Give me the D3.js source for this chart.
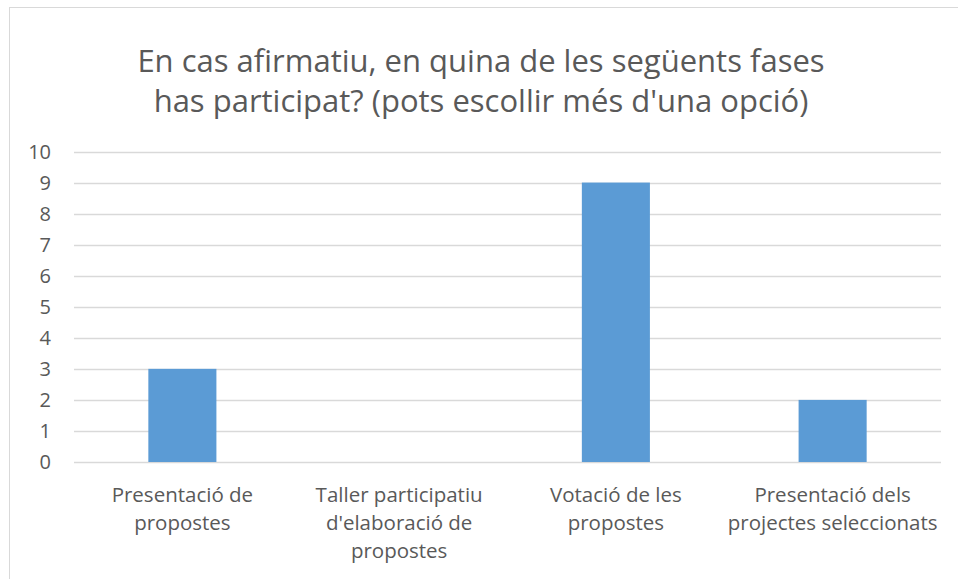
<!DOCTYPE html>
<html>
<head>
<meta charset="utf-8">
<script src="https://cdn.jsdelivr.net/npm/d3@7"></script>
<style>
  body { margin: 0; background: #fff; }
  text { font-family: "Open Sans", sans-serif; fill: #595959; }
</style>
</head>
<body>
<div id="chart"></div>
<script>
const categories = [
  "Presentació de\npropostes",
  "Taller participatiu\nd'elaboració de\npropostes",
  "Votació de les\npropostes",
  "Presentació dels\nprojectes seleccionats"
]
const values = [3, 0, 9, 2]
const yTicks = [0, 1, 2, 3, 4, 5, 6, 7, 8, 9, 10]
const titleLines = [
  "En cas afirmatiu, en quina de les següents fases",
  "has participat? (pots escollir més d'una opció)"
]

const width = 958
const height = 579
const margin = { left: 74, right: 17, top: 151.5, bottom: 117 }

const svg = d3.select("#chart").append("svg")
  .attr("width", width).attr("height", height)

// chart frame (cut off at right/bottom like the source)
svg.append("rect")
  .attr("x", 9.5).attr("y", 7.5)
  .attr("width", width + 20).attr("height", height + 20)
  .attr("fill", "none").attr("stroke", "#d9d9d9")

const x = d3.scaleBand()
  .domain(categories)
  .range([margin.left, width - margin.right])
  .paddingInner(0.686).paddingOuter(0.343)

const y = d3.scaleLinear()
  .domain([0, 10])
  .range([height - margin.bottom, margin.top])

// gridlines
svg.append("g")
  .selectAll("line")
  .data(yTicks)
  .enter().append("line")
  .attr("x1", margin.left).attr("x2", width - margin.right)
  .attr("y1", d => Math.round(y(d)) + 0.5).attr("y2", d => Math.round(y(d)) + 0.5)
  .attr("stroke", "#d9d9d9").attr("stroke-width", 1.3)

// y labels
svg.append("g")
  .selectAll("text")
  .data(yTicks)
  .enter().append("text")
  .attr("x", 51).attr("y", d => y(d))
  .attr("dy", "0.35em")
  .attr("text-anchor", "end")
  .style("font-size", "20px")
  .text(d => d)

// bars
svg.append("g")
  .selectAll("rect")
  .data(values)
  .enter().append("rect")
  .attr("x", (d, i) => x(categories[i]))
  .attr("width", x.bandwidth())
  .attr("y", d => y(d))
  .attr("height", d => y(0) - y(d))
  .attr("fill", "#5b9bd5")

// category labels
const xl = svg.append("g")
  .selectAll("text")
  .data(categories)
  .enter().append("text")
  .attr("text-anchor", "middle")
  .style("font-size", "20.5px")
  .attr("transform", d => `translate(${x(d) + x.bandwidth() / 2},${y(0) + 33})`)

xl.selectAll("tspan")
  .data(d => d.split("\n"))
  .enter().append("tspan")
  .attr("x", 0)
  .attr("dy", (d, i) => i === 0 ? "0.35em" : "28px")
  .text(d => d)

// title
svg.append("text")
  .attr("text-anchor", "middle")
  .style("font-size", "31px")
  .selectAll("tspan")
  .data(titleLines)
  .enter().append("tspan")
  .attr("x", width / 2 + 2)
  .attr("y", (d, i) => 61 + i * 40)
  .attr("dy", "0.35em")
  .text(d => d)
</script>
</body>
</html>
